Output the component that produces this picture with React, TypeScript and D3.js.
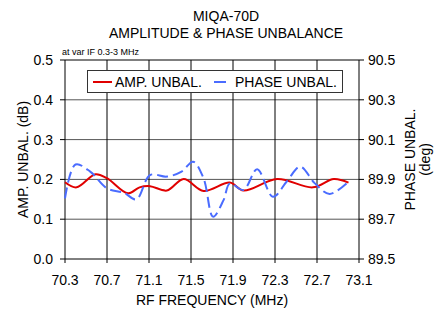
import * as d3 from "d3";

const ampFreq = [70.3, 70.41, 70.59, 70.7, 70.9, 71.01, 71.11, 71.27, 71.43, 71.62, 71.87, 72.0, 72.32, 72.66, 72.86, 73.0];
const ampVals = [0.193, 0.18, 0.213, 0.203, 0.165, 0.18, 0.183, 0.172, 0.201, 0.171, 0.192, 0.172, 0.201, 0.18, 0.201, 0.192];

const phaseFreq = [70.3, 70.4, 70.54, 70.7, 70.86, 70.98, 71.11, 71.27, 71.41, 71.52, 71.62, 71.71, 71.81, 71.87, 72.0, 72.13, 72.28, 72.41, 72.54, 72.68, 72.82, 73.0];
const phaseVals = [89.805, 89.975, 89.939, 89.855, 89.833, 89.8, 89.922, 89.914, 89.939, 89.989, 89.905, 89.713, 89.796, 89.88, 89.847, 89.951, 89.813, 89.888, 89.964, 89.88, 89.827, 89.888];

const xTicks = [70.3, 70.7, 71.1, 71.5, 71.9, 72.3, 72.7, 73.1];
const leftTicks = [0.0, 0.1, 0.2, 0.3, 0.4, 0.5];
const rightTicks = [89.5, 89.7, 89.9, 90.1, 90.3, 90.5];

const FONT = "'Liberation Sans', Arial, sans-serif";
const RED = "#e00000";
const BLUE = "#4a6cff";

export default function App() {
  const left = 65, right = 359, top = 60, bottom = 259;
  const x = d3.scaleLinear().domain([70.3, 73.1]).range([left, right]);
  const yL = d3.scaleLinear().domain([0, 0.5]).range([bottom, top]);
  const yR = d3.scaleLinear().domain([89.5, 90.5]).range([bottom, top]);

  const ampLine = d3
    .line<number>()
    .x((_, i) => x(ampFreq[i]))
    .y((d) => yL(d))
    .curve(d3.curveCatmullRom.alpha(0.5));
  const phaseLine = d3
    .line<number>()
    .x((_, i) => x(phaseFreq[i]))
    .y((d) => yR(d))
    .curve(d3.curveCatmullRom.alpha(0.5));

  return (
    <svg width={434} height={309} style={{ position: "absolute", left: 0, top: 0, background: "#fff" }} fontFamily={FONT}>
      {/* title */}
      <text x={226} y={21} textAnchor="middle" fontSize={14}>MIQA-70D</text>
      <text x={226} y={38} textAnchor="middle" fontSize={14}>AMPLITUDE &amp; PHASE UNBALANCE</text>
      <text x={62} y={55} fontSize={9}>at var IF 0.3-3 MHz</text>

      {/* grid */}
      {leftTicks.slice(1, -1).map((t) => (
        <line key={"h" + t} x1={left} x2={right} y1={yL(t)} y2={yL(t)} stroke="#555" strokeWidth={1} />
      ))}
      {xTicks.map((t) => (
        <line key={"v" + t} x1={x(t)} x2={x(t)} y1={top} y2={bottom + 4} stroke="#000" strokeWidth={1} />
      ))}
      {/* frame */}
      <line x1={left} x2={right} y1={top} y2={top} stroke="#000" />
      <line x1={left} x2={right} y1={bottom} y2={bottom} stroke="#000" />

      {/* left axis */}
      {leftTicks.map((t) => (
        <g key={"l" + t}>
          <line x1={left - 5} x2={left} y1={yL(t)} y2={yL(t)} stroke="#000" />
          <text x={53} y={yL(t) + 5} textAnchor="end" fontSize={14}>{t.toFixed(1)}</text>
        </g>
      ))}
      {/* right axis */}
      {rightTicks.map((t) => (
        <g key={"r" + t}>
          <line x1={right} x2={right + 5} y1={yR(t)} y2={yR(t)} stroke="#000" />
          <text x={368} y={yR(t) + 5} fontSize={14}>{t.toFixed(1)}</text>
        </g>
      ))}
      {/* x labels */}
      {xTicks.map((t) => (
        <text key={"xl" + t} x={x(t)} y={285} textAnchor="middle" fontSize={14}>{t.toFixed(1)}</text>
      ))}
      <text x={(left + right) / 2} y={305} textAnchor="middle" fontSize={14}>RF FREQUENCY (MHz)</text>
      <text transform={`translate(28,${(top + bottom) / 2}) rotate(-90)`} textAnchor="middle" fontSize={14}>AMP. UNBAL. (dB)</text>
      <text transform={`translate(415,${(top + bottom) / 2}) rotate(-90)`} textAnchor="middle" fontSize={14}>PHASE UNBAL.</text>
      <text transform={`translate(430,${(top + bottom) / 2}) rotate(-90)`} textAnchor="middle" fontSize={14}>(deg)</text>

      {/* series */}
      <path d={ampLine(ampVals) || ""} fill="none" stroke={RED} strokeWidth={2} />
      <path d={phaseLine(phaseVals) || ""} fill="none" stroke={BLUE} strokeWidth={2} strokeDasharray="11,5" />

      {/* legend */}
      <rect x={87.5} y={70.5} width={255} height={22} fill="#fff" stroke="#333" />
      <line x1={93} x2={112} y1={82} y2={82} stroke={RED} strokeWidth={2} />
      <text x={115} y={87} fontSize={14}>AMP. UNBAL.</text>
      <line x1={214} x2={226} y1={82} y2={82} stroke={BLUE} strokeWidth={2} />
      <text x={235} y={87} fontSize={14}>PHASE UNBAL.</text>
    </svg>
  );
}
